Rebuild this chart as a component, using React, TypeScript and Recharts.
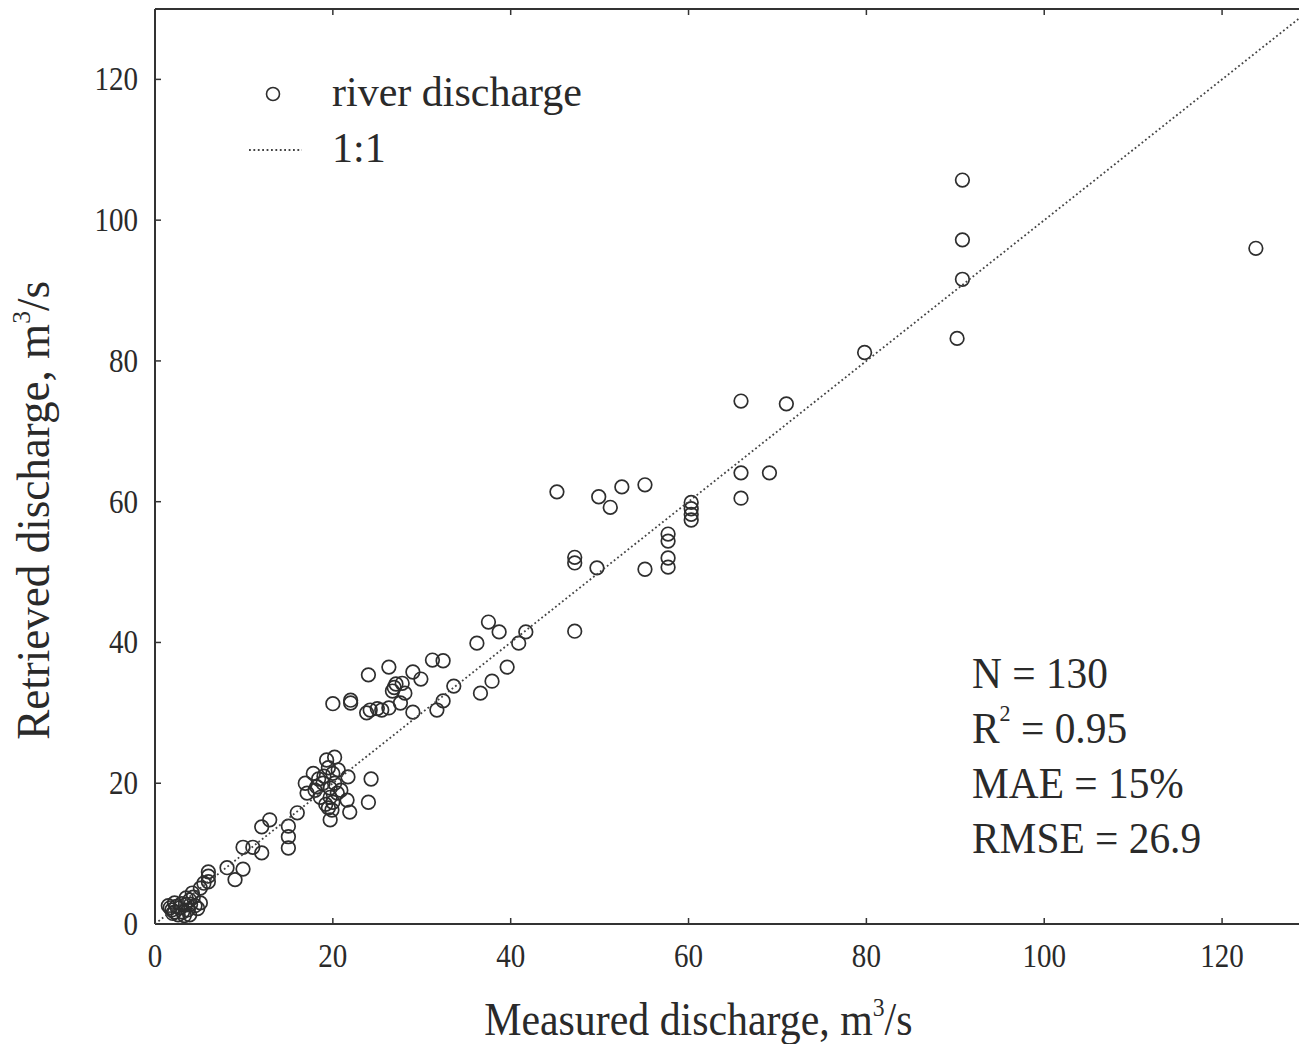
import React from 'react';
import { ScatterChart, Scatter, XAxis, YAxis, Legend, Customized } from 'recharts';

const measured = [
  123.8, 90.8, 90.8, 90.8, 90.2, 79.8, 65.9, 71.0, 65.9, 69.1, 65.9, 45.2, 49.9, 51.2, 52.5, 55.1, 60.3, 60.3, 60.3,
  57.7, 57.7, 57.7, 57.7, 55.1, 49.7, 47.2, 47.2, 47.2, 60.3,
  37.5, 38.7, 36.2, 41.7, 40.9, 39.6, 37.9, 36.6, 33.6, 32.4, 31.7, 29.0, 32.4, 31.2, 29.9, 29.0, 26.3, 24.0, 20.0,
  22.0, 22.0, 27.1, 26.7, 28.1, 27.6, 26.3, 25.5, 24.2, 23.8, 27.8, 26.9,
  19.3, 20.2, 17.8, 20.0, 21.7, 24.3, 16.9, 18.2, 18.9, 19.7, 20.2, 21.6, 24.0, 17.1, 18.6, 19.7, 20.0, 19.5, 19.9,
  21.9, 19.7, 20.5, 19.2, 20.6, 19.0,
  16.0, 15.0, 15.0, 15.0, 12.9, 12.0, 11.0, 12.0, 9.9, 9.0, 8.1, 9.9, 6.0, 6.0, 6.0, 5.1, 4.2,
  1.7, 2.2, 2.8, 3.4, 3.9, 2.2, 2.6, 3.1, 3.7, 4.5, 5.1, 3.9, 1.5, 1.9, 3.5, 4.3, 2.4, 3.0, 4.8, 2.0, 3.3, 4.0,
  18.0, 20.9, 19.5, 18.4, 25.0, 5.5,
];

const retrieved = [
  96.0, 105.7, 97.2, 91.6, 83.2, 81.2, 74.3, 73.9, 64.1, 64.1, 60.5, 61.4, 60.7, 59.2, 62.1, 62.4, 59.9, 59.0, 57.4,
  55.4, 54.4, 52.0, 50.7, 50.4, 50.6, 52.1, 51.3, 41.6, 58.2,
  42.9, 41.5, 39.9, 41.5, 39.9, 36.5, 34.5, 32.8, 33.8, 31.7, 30.4, 30.1, 37.4, 37.5, 34.8, 35.8, 36.5, 35.4, 31.3,
  31.8, 31.4, 34.1, 33.1, 32.8, 31.4, 30.7, 30.4, 30.4, 30.0, 34.2, 33.6,
  23.3, 23.7, 21.4, 21.4, 20.9, 20.6, 20.0, 19.5, 20.0, 19.3, 20.0, 17.6, 17.3, 18.6, 18.0, 18.0, 17.3, 16.5, 16.2,
  15.9, 14.8, 18.6, 17.0, 21.9, 21.0,
  15.8, 13.9, 12.4, 10.8, 14.8, 13.8, 10.9, 10.1, 10.9, 6.3, 8.0, 7.8, 7.4, 6.8, 6.0, 5.1, 4.4,
  2.3, 1.7, 2.3, 2.7, 3.4, 3.0, 1.3, 1.7, 2.0, 2.6, 3.0, 1.3, 2.6, 2.0, 3.7, 3.8, 2.5, 2.9, 2.2, 1.5, 1.2, 2.8,
  19.0, 19.0, 22.2, 20.6, 30.6, 5.8,
];

const oneToOne = [
  { x: 0, y: 0 },
  { x: 130, y: 130 },
];

const axisTicks = [0, 20, 40, 60, 80, 100, 120];
const legendOrder = ['river discharge', '1:1'];
const stats = ['N = 130', 'R2 = 0.95', 'MAE = 15%', 'RMSE = 26.9'];

const points = measured.map((x, i) => ({ x, y: retrieved[i] }));

const FONT = '"Liberation Serif", "Times New Roman", serif';
const INK = '#2a2a2a';
const AXIS = '#333';
const DOTTED = { stroke: '#444', strokeWidth: 1.8, strokeDasharray: '1.8 2.6' };

const BottomTick = ({ x, y, payload }: any) => (
  <g>
    {payload.value > 0 && <line x1={x} y1={y} x2={x} y2={y - 6} stroke={AXIS} strokeWidth={1.5} />}
    <text
      transform={`translate(${x},${y + 43}) scale(0.88,1)`}
      textAnchor="middle"
      fontFamily={FONT}
      fontSize={33}
      fill={INK}
    >
      {payload.value}
    </text>
  </g>
);

const TopTick = ({ x, y, payload }: any) =>
  payload.value > 0 ? <line x1={x} y1={y} x2={x} y2={y + 6} stroke={AXIS} strokeWidth={1.5} /> : <g />;

const LeftTick = ({ x, y, payload }: any) => (
  <g>
    {payload.value > 0 && <line x1={x} y1={y} x2={x + 6} y2={y} stroke={AXIS} strokeWidth={1.5} />}
    <text
      transform={`translate(${x - 17},${y + 11}) scale(0.88,1)`}
      textAnchor="end"
      fontFamily={FONT}
      fontSize={33}
      fill={INK}
    >
      {payload.value}
    </text>
  </g>
);

const Ring = (props: any) => (
  <circle cx={props.cx} cy={props.cy} r={6.8} fill="none" stroke="#2e2e2e" strokeWidth={1.7} />
);

const NoDot = () => <g />;

const XTitle = ({ viewBox }: any) => (
  <text
    transform={`translate(${viewBox.x + viewBox.width * 0.47},${viewBox.y + viewBox.height - 9}) scale(0.91,1)`}
    textAnchor="middle"
    fontFamily={FONT}
    fontSize={46}
    fill={INK}
  >
    Measured discharge, m<tspan dy={-19} fontSize={26}>3</tspan>
    <tspan dy={19}>/s</tspan>
  </text>
);

const YTitle = ({ viewBox }: any) => (
  <text
    transform={`translate(49,${viewBox.y + viewBox.height * 0.548}) rotate(-90) scale(0.98,1)`}
    textAnchor="middle"
    fontFamily={FONT}
    fontSize={46}
    fill={INK}
  >
    Retrieved discharge, m<tspan dy={-19} fontSize={26}>3</tspan>
    <tspan dy={19}>/s</tspan>
  </text>
);

const StatsBlock = () => (
  <g transform="translate(972,0) scale(0.92,1)" fontFamily={FONT} fontSize={45} fill={INK}>
    {stats.map((s, i) => {
      const y = 688 + i * 55;
      if (s.startsWith('R2')) {
        return (
          <text key={s} x={0} y={y}>
            R<tspan dy={-22} fontSize={24}>2</tspan>
            <tspan dy={22}>{s.slice(2)}</tspan>
          </text>
        );
      }
      return (
        <text key={s} x={0} y={y}>
          {s}
        </text>
      );
    })}
  </g>
);

const LegendBox = ({ payload }: any) => {
  const items = [...(payload || [])].sort(
    (a: any, b: any) => legendOrder.indexOf(a.value) - legendOrder.indexOf(b.value),
  );
  return (
    <svg width={380} height={130}>
      {items.map((entry: any, i: number) => {
        const cy = 44 + i * 56;
        return (
          <g key={entry.value}>
            {entry.value === '1:1' ? (
              <line x1={9} y1={cy} x2={62} y2={cy} {...DOTTED} />
            ) : (
              <circle cx={33} cy={cy} r={6.5} fill="none" stroke="#2e2e2e" strokeWidth={1.6} />
            )}
            <text x={92} y={cy + 12} fontFamily={FONT} fontSize={42} fill={INK}>
              {entry.value}
            </text>
          </g>
        );
      })}
    </svg>
  );
};

export default function App() {
  return (
    <div
      style={{
        position: 'absolute',
        left: 0,
        top: 0,
        width: 1299,
        height: 1044,
        overflow: 'hidden',
        background: '#fff',
      }}
    >
      <ScatterChart width={1311} height={1044} margin={{ top: 0, right: 0, bottom: 0, left: 0 }}>
        <XAxis
          type="number"
          dataKey="x"
          domain={[0, 130]}
          ticks={axisTicks}
          allowDataOverflow
          height={120}
          axisLine={{ stroke: AXIS, strokeWidth: 2 }}
          tickLine={false}
          tickSize={0}
          tickMargin={0}
          tick={BottomTick}
          label={XTitle}
        />
        <XAxis
          xAxisId="top"
          orientation="top"
          type="number"
          dataKey="x"
          domain={[0, 130]}
          ticks={axisTicks}
          allowDataOverflow
          height={9}
          axisLine={{ stroke: AXIS, strokeWidth: 2 }}
          tickLine={false}
          tickSize={0}
          tickMargin={0}
          tick={TopTick}
        />
        <YAxis
          type="number"
          dataKey="y"
          domain={[0, 130]}
          ticks={axisTicks}
          allowDataOverflow
          width={155}
          axisLine={{ stroke: AXIS, strokeWidth: 2 }}
          tickLine={false}
          tickSize={0}
          tickMargin={0}
          tick={LeftTick}
          label={YTitle}
        />
        <Scatter
          name="river discharge"
          data={points}
          shape={Ring}
          legendType="circle"
          isAnimationActive={false}
        />
        <Scatter
          name="1:1"
          data={oneToOne}
          shape={NoDot}
          line={DOTTED}
          legendType="line"
          isAnimationActive={false}
        />
        <Legend
          layout="vertical"
          align="center"
          verticalAlign="middle"
          content={LegendBox}
          wrapperStyle={{ position: 'absolute', left: 240, top: 50, width: 380, height: 130 }}
        />
        <Customized component={StatsBlock} />
      </ScatterChart>
    </div>
  );
}
